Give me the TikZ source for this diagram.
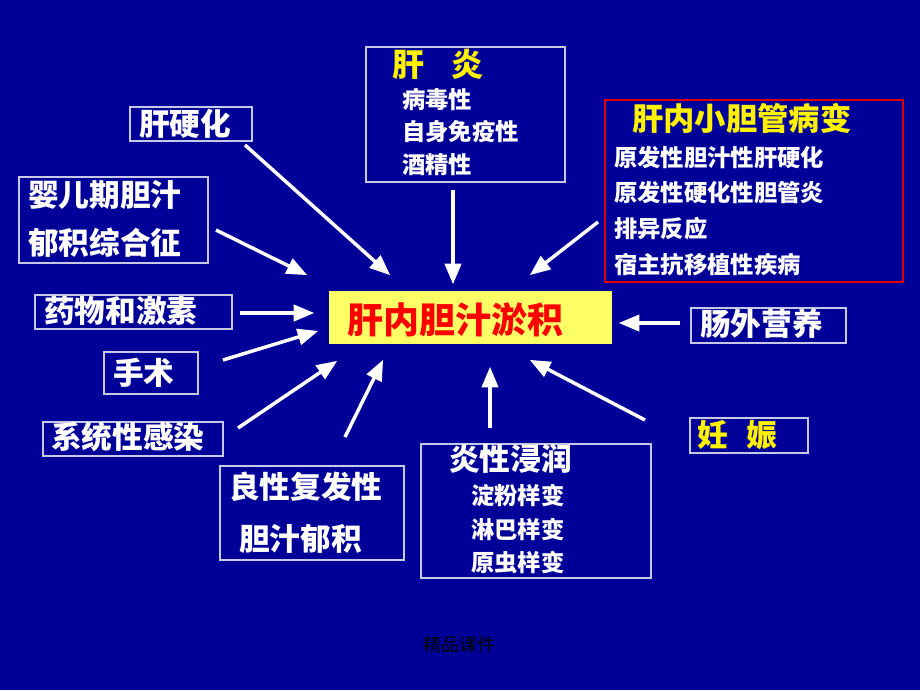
\documentclass[tikz,border=0pt]{standalone}
\usepackage{fontspec}
\setmainfont{Noto Sans CJK SC}
\usetikzlibrary{arrows}
\definecolor{bgblue}{RGB}{0,0,153}
\definecolor{boxline}{RGB}{200,200,230}
\definecolor{paleyellow}{RGB}{255,255,102}
\definecolor{boxred}{RGB}{220,0,0}
\begin{document}
\begin{tikzpicture}[x=0.75pt,y=-0.75pt,>=triangle 45,
    box/.style={draw=boxline,line width=0.8pt,inner sep=0pt},
    bigtxt/.style={font=\bfseries\fontsize{23}{23}\selectfont,text=white,inner sep=0pt,anchor=west},
    smalltxt/.style={font=\bfseries\fontsize{17.5}{17.5}\selectfont,text=white,inner sep=0pt,anchor=west},
    arr/.style={->,draw=white,line width=2.6pt}]
    \fill[bgblue] (0,0) rectangle (920,690);

    % boxes
    \node[box,minimum width=91.5pt,minimum height=25.5pt] (gyh) at (191,124) {};
    \node[box,minimum width=141.75pt,minimum height=64.5pt] (yeq) at (113.5,220) {};
    \node[box,minimum width=147.75pt,minimum height=25.5pt] (ywj) at (133.5,312) {};
    \node[box,minimum width=70.5pt,minimum height=31.5pt] (ss) at (151,373) {};
    \node[box,minimum width=135pt,minimum height=25.5pt] (xtg) at (133,439) {};
    \node[box,minimum width=138pt,minimum height=70.5pt] (lxf) at (312,513) {};
    \node[box,minimum width=172.5pt,minimum height=100.5pt] (yxj) at (536,511) {};
    \node[box,minimum width=149.25pt,minimum height=101.25pt] (gy) at (465.5,114.5) {};
    \node[box,draw=boxred,minimum width=223.5pt,minimum height=136.5pt] (xdg) at (754,191) {};
    \node[box,draw=none,fill=paleyellow,minimum width=212.25pt,minimum height=39.75pt] (yj) at (470.5,317.5) {};
    \node[box,minimum width=116.25pt,minimum height=26.25pt] (cwy) at (768.5,325.5) {};
    \node[box,minimum width=88.5pt,minimum height=26.25pt] (rs) at (749,435.5) {};

    % texts
    \node[bigtxt] (tgyh) at (139,124) {肝硬化};
    \node[bigtxt] (tyeq1) at (28,195) {婴儿期胆汁};
    \node[bigtxt] (tyeq2) at (28,243) {郁积综合征};
    \node[bigtxt] (tywj) at (44,311) {药物和激素};
    \node[bigtxt] (tss) at (113,373) {手术};
    \node[bigtxt] (txtg) at (51,437) {系统性感染};
    \node[bigtxt] (tlxf1) at (229,487) {良性复发性};
    \node[bigtxt] (tlxf2) at (239,539) {胆汁郁积};
    \node[bigtxt] (tyxj) at (449,459) {炎性浸润};
    \node[smalltxt] (tyxj1) at (471,495) {淀粉样变};
    \node[smalltxt] (tyxj2) at (471,529) {淋巴样变};
    \node[smalltxt] (tyxj3) at (471,563) {原虫样变};
    \node[bigtxt,text=yellow,font=\bfseries\fontsize{24}{24}\selectfont] (tgy) at (392,64) {肝\hspace{0.85em}炎};
    \node[smalltxt] (tgy1) at (402,100) {病毒性};
    \node[smalltxt] (tgy2) at (402,132) {自身免疫性};
    \node[smalltxt] (tgy3) at (402,165) {酒精性};
    \node[bigtxt,text=yellow,font=\bfseries\fontsize{23.5}{23.5}\selectfont] (txdg) at (632,118) {肝内小胆管病变};
    \node[smalltxt] (txdg1) at (614,158) {原发性胆汁性肝硬化};
    \node[smalltxt] (txdg2) at (614,193) {原发性硬化性胆管炎};
    \node[smalltxt] (txdg3) at (614,229) {排异反应};
    \node[smalltxt] (txdg4) at (614,265) {宿主抗移植性疾病};
    \node[bigtxt,text=red,font=\bfseries\fontsize{27}{27}\selectfont] (tyj) at (347,320) {肝内胆汁淤积};
    \node[bigtxt] (tcwy) at (700,324) {肠外营养};
    \node[bigtxt,text=yellow] (trs) at (697,435) {妊\hspace{0.6em}娠};
    \node[font=\fontsize{13.5}{13.5}\selectfont,text=black,inner sep=0pt] (foot) at (459,645) {精品课件};

    % arrow ends
    \coordinate (s1) at (245,145);  \coordinate (t1) at (390,275);
    \coordinate (s2) at (216,230);  \coordinate (t2) at (307,275);
    \coordinate (s3) at (453,190);  \coordinate (t3) at (453,284);
    \coordinate (s4) at (598,222);  \coordinate (t4) at (530,275);
    \coordinate (s5) at (240,313);  \coordinate (t5) at (314,313);
    \coordinate (s6) at (680,323);  \coordinate (t6) at (619,323);
    \coordinate (s7) at (223,360);  \coordinate (t7) at (318,331);
    \coordinate (s8) at (238,428);  \coordinate (t8) at (337,361);
    \coordinate (s9) at (345,437);  \coordinate (t9) at (383,360);
    \coordinate (s10) at (490,428); \coordinate (t10) at (490,367);
    \coordinate (s11) at (645,420); \coordinate (t11) at (530,360);
    \foreach \i in {1,...,11}
        \draw[arr] (s\i) -- (t\i);
\end{tikzpicture}
\end{document}
